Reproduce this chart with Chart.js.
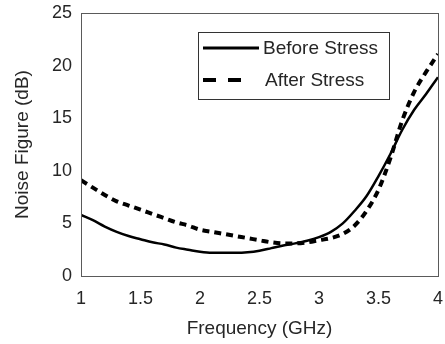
<!DOCTYPE html>
<html>
<head>
<meta charset="utf-8">
<script src="https://cdn.jsdelivr.net/npm/chart.js@4.4.1/dist/chart.umd.min.js"></script>
<style>
  html, body { margin: 0; padding: 0; background: #fff; }
  #wrap { width: 445px; height: 344px; }
</style>
</head>
<body>
<div id="wrap"><canvas id="nf"></canvas></div>
<script>
const freq = [1.0, 1.1, 1.2, 1.3, 1.4, 1.5, 1.6, 1.7, 1.8, 1.9,
              2.0, 2.1, 2.2, 2.3, 2.4, 2.5, 2.6, 2.7, 2.8, 2.9,
              3.0, 3.1, 3.2, 3.3, 3.4, 3.5, 3.6, 3.7, 3.8, 3.9, 4.0];
const beforeStress = [5.8, 5.3, 4.7, 4.2, 3.8, 3.5, 3.2, 3.0, 2.7, 2.5,
                      2.3, 2.2, 2.2, 2.2, 2.25, 2.4, 2.65, 2.9, 3.1, 3.35,
                      3.7, 4.2, 5.0, 6.2, 7.6, 9.5, 11.6, 13.9, 15.8, 17.3, 18.9];
const afterStress = [9.1, 8.4, 7.7, 7.1, 6.7, 6.3, 5.9, 5.5, 5.1, 4.8,
                     4.4, 4.2, 4.0, 3.8, 3.6, 3.4, 3.2, 3.1, 3.1, 3.2,
                     3.4, 3.6, 4.0, 4.8, 6.2, 8.2, 11.2, 14.8, 17.5, 19.4, 21.1];
const seriesNames = ['Before Stress', 'After Stress'];

const FONT = '"Liberation Sans", Arial, sans-serif';
const TXT = '#262626';
const FRAME = '#5a5a5a';

// frame around plot area + legend box inside it
const framePlugin = {
  id: 'frame',
  afterDraw(chart) {
    const { ctx, chartArea: a } = chart;
    ctx.save();
    ctx.strokeStyle = FRAME;
    ctx.lineWidth = 1;
    ctx.strokeRect(Math.round(a.left) + 0.5, Math.round(a.top) + 0.5,
                   Math.round(a.right - a.left), Math.round(a.bottom - a.top));

    // legend
    const lx = 198, ly = 32, lw = 191, lh = 67;
    ctx.fillStyle = '#fff';
    ctx.fillRect(lx, ly, lw, lh);
    ctx.strokeStyle = '#333';
    ctx.strokeRect(lx + 0.5, ly + 0.5, lw, lh);

    ctx.strokeStyle = '#000';
    ctx.lineWidth = 3;
    ctx.beginPath();
    ctx.moveTo(203, 48); ctx.lineTo(259, 48);
    ctx.stroke();

    ctx.lineWidth = 4;
    ctx.setLineDash([13, 12]);
    ctx.beginPath();
    ctx.moveTo(203, 80); ctx.lineTo(250, 80);
    ctx.stroke();
    ctx.setLineDash([]);

    ctx.fillStyle = TXT;
    ctx.font = '19px ' + FONT;
    ctx.textBaseline = 'middle';
    ctx.fillText(seriesNames[0], 263, 49);
    ctx.fillText(seriesNames[1], 265, 81);
    ctx.restore();
  }
};

new Chart(document.getElementById('nf'), {
  type: 'line',
  data: {
    labels: freq,
    datasets: [{
      label: seriesNames[0],
      data: freq.map((f, i) => ({ x: f, y: beforeStress[i] })),
      borderColor: '#000',
      borderWidth: 2.5,
      pointRadius: 0,
      cubicInterpolationMode: 'monotone'
    }, {
      label: seriesNames[1],
      data: freq.map((f, i) => ({ x: f, y: afterStress[i] })),
      borderColor: '#000',
      borderWidth: 4,
      borderDash: [7, 5],
      pointRadius: 0,
      cubicInterpolationMode: 'monotone'
    }]
  },
  options: {
    responsive: true,
    maintainAspectRatio: false,
    animation: false,
    layout: { padding: { top: 13, right: 7, left: 0, bottom: 0 } },
    plugins: { legend: { display: false }, tooltip: { enabled: false } },
    scales: {
      x: {
        type: 'linear',
        min: 1, max: 4,
        grid: { display: false, drawTicks: false },
        border: { display: false },
        ticks: { stepSize: 0.5, color: TXT, padding: 12, font: { family: FONT, size: 18 },
                 callback: v => String(v) },
        title: { display: true, text: 'Frequency (GHz)', color: TXT,
                 padding: { top: 0, bottom: 4 }, font: { family: FONT, size: 19 } },
        afterFit(s) { s.height = 68; s.paddingLeft = 0; s.paddingRight = 0; }
      },
      y: {
        min: 0, max: 25,
        grid: { display: false, drawTicks: false },
        border: { display: false },
        ticks: { stepSize: 5, color: TXT, padding: 9, font: { family: FONT, size: 18 } },
        title: { display: true, text: 'Noise Figure (dB)', color: TXT,
                 padding: { top: 11, bottom: 0 }, font: { family: FONT, size: 19 } },
        afterFit(s) { s.width = 81; s.paddingTop = 0; s.paddingBottom = 0; }
      }
    }
  },
  plugins: [framePlugin]
});
</script>
</body>
</html>
